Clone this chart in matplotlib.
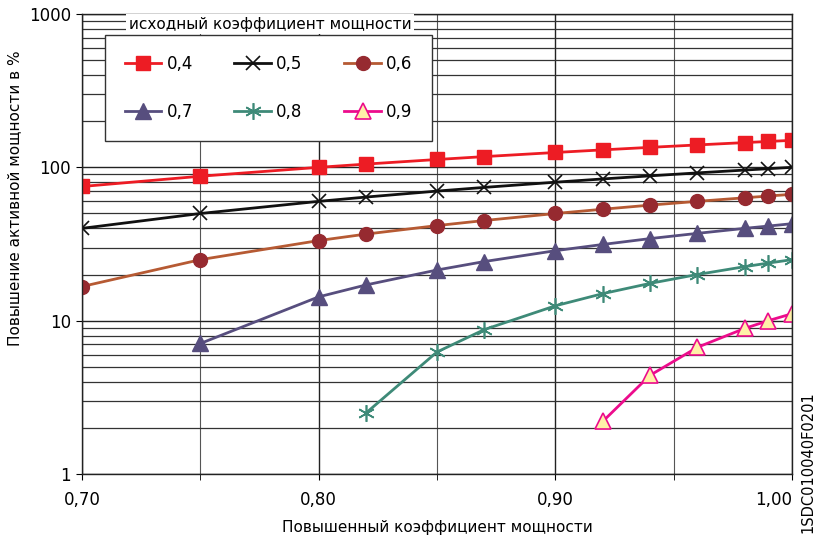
import matplotlib
matplotlib.use("Agg")
import matplotlib.pyplot as plt
from matplotlib.ticker import FixedLocator, FuncFormatter, LogLocator, NullFormatter

# данные
x_04 = [0.70, 0.75, 0.80, 0.82, 0.85, 0.87, 0.90, 0.92, 0.94, 0.96, 0.98, 0.99, 1.00]
y_04 = [75, 87.5, 100, 105, 112.5, 117.5, 125, 130, 135, 140, 145, 147.5, 150]
x_05 = [0.70, 0.75, 0.80, 0.82, 0.85, 0.87, 0.90, 0.92, 0.94, 0.96, 0.98, 0.99, 1.00]
y_05 = [40, 50, 60, 64, 70, 74, 80, 84, 88, 92, 96, 98, 100]
x_06 = [0.70, 0.75, 0.80, 0.82, 0.85, 0.87, 0.90, 0.92, 0.94, 0.96, 0.98, 0.99, 1.00]
y_06 = [16.7, 25, 33.3, 36.7, 41.7, 45, 50, 53.3, 56.7, 60, 63.3, 65, 66.7]
x_07 = [0.75, 0.80, 0.82, 0.85, 0.87, 0.90, 0.92, 0.94, 0.96, 0.98, 0.99, 1.00]
y_07 = [7.1, 14.3, 17.1, 21.4, 24.3, 28.6, 31.4, 34.3, 37.1, 40, 41.4, 42.9]
x_08 = [0.82, 0.85, 0.87, 0.90, 0.92, 0.94, 0.96, 0.98, 0.99, 1.00]
y_08 = [2.5, 6.25, 8.75, 12.5, 15, 17.5, 20, 22.5, 23.75, 25]
x_09 = [0.92, 0.94, 0.96, 0.98, 0.99, 1.00]
y_09 = [2.2, 4.4, 6.7, 8.9, 10, 11.1]

x_ticks = [0.70, 0.80, 0.90, 1.00]
x_minor = [0.75, 0.85, 0.95]
y_ticks = [1, 10, 100, 1000]

fig = plt.figure(figsize=(8.22, 5.39), dpi=100)
ax = fig.add_axes([0.0998, 0.1206, 0.8637, 0.8534])

ax.set_yscale("log")
ax.set_xlim(0.70, 1.00)
ax.set_ylim(1, 1000)

# сетка
ax.yaxis.set_major_locator(FixedLocator(y_ticks))
ax.yaxis.set_minor_locator(LogLocator(base=10, subs=range(2, 10)))
ax.yaxis.set_minor_formatter(NullFormatter())
ax.yaxis.set_major_formatter(FuncFormatter(lambda v, p: "%d" % v))
ax.xaxis.set_major_locator(FixedLocator(x_ticks))
ax.xaxis.set_minor_locator(FixedLocator(x_minor))
ax.xaxis.set_major_formatter(FuncFormatter(lambda v, p: ("%.2f" % v).replace(".", ",")))

ax.grid(True, which="major", axis="both", color="#222222", lw=1.0)
ax.grid(True, which="minor", axis="y", color="#333333", lw=0.9)
ax.grid(True, which="minor", axis="x", color="#555555", lw=0.8)
ax.set_axisbelow(True)

ax.tick_params(which="major", length=4, width=0.8, labelsize=12, pad=8)
ax.tick_params(which="minor", axis="x", length=4, width=0.6)
ax.tick_params(which="minor", axis="y", length=0)
ax.tick_params(axis="y", pad=4)
for s in ax.spines.values():
    s.set_color("#222222")
    s.set_linewidth(1.0)

ms = 10
l4, = ax.plot(x_04, y_04, color="#ED1C24", lw=2, marker="s", ms=ms, mfc="#ED1C24", mec="#ED1C24", label="0,4")
l5, = ax.plot(x_05, y_05, color="#111111", lw=2, marker="x", ms=ms, mew=1.2, mec="#111111", label="0,5")
l6, = ax.plot(x_06, y_06, color="#B65A33", lw=2, marker="o", ms=ms, mfc="#962A30", mec="#962A30", label="0,6")
l7, = ax.plot(x_07, y_07, color="#574E7E", lw=2, marker="^", ms=ms + 1, mfc="#574E7E", mec="#574E7E", label="0,7")
l8, = ax.plot(x_08, y_08, color="#3E8A78", lw=2, marker=(6, 2, 0), ms=ms + 2, mew=1.2, mec="#3E8A78", label="0,8")
l9, = ax.plot(x_09, y_09, color="#EC0C8C", lw=2, marker="^", ms=ms + 1, mfc="#FFF0A8", mec="#EC0C8C", mew=1.2, label="0,9")

# порядок по строкам: 0,4 0,5 0,6 / 0,7 0,8 0,9
handles = [l4, l7, l5, l8, l6, l9]
leg = ax.legend(handles, [h.get_label() for h in handles],
                loc="upper left", bbox_to_anchor=(0.032, 0.954),
                ncol=3, fontsize=12, frameon=True, fancybox=False, framealpha=1,
                edgecolor="#333333", handlelength=2.2, handletextpad=0.3,
                labelspacing=1.8, borderpad=1.2, columnspacing=2.5, borderaxespad=0)
leg.get_frame().set_linewidth(1.0)

ax.text(0.265, 0.978, "исходный коэффициент мощности", transform=ax.transAxes,
        ha="center", va="center", fontsize=11, zorder=10,
        bbox=dict(facecolor="white", edgecolor="none", pad=2))

ax.set_xlabel("Повышенный коэффициент мощности", fontsize=11, labelpad=8)
ax.set_ylabel("Повышение активной мощности в %", fontsize=11)
ax.yaxis.set_label_coords(-0.084, 0.6)

fig.canvas.draw()
ax.get_xticklabels()[-1].set_ha("right")

fig.text(0.983, 0.143, "1SDC010040F0201", rotation=90, ha="center", va="center", fontsize=10.5)

fig.savefig("out.png", dpi=100)
